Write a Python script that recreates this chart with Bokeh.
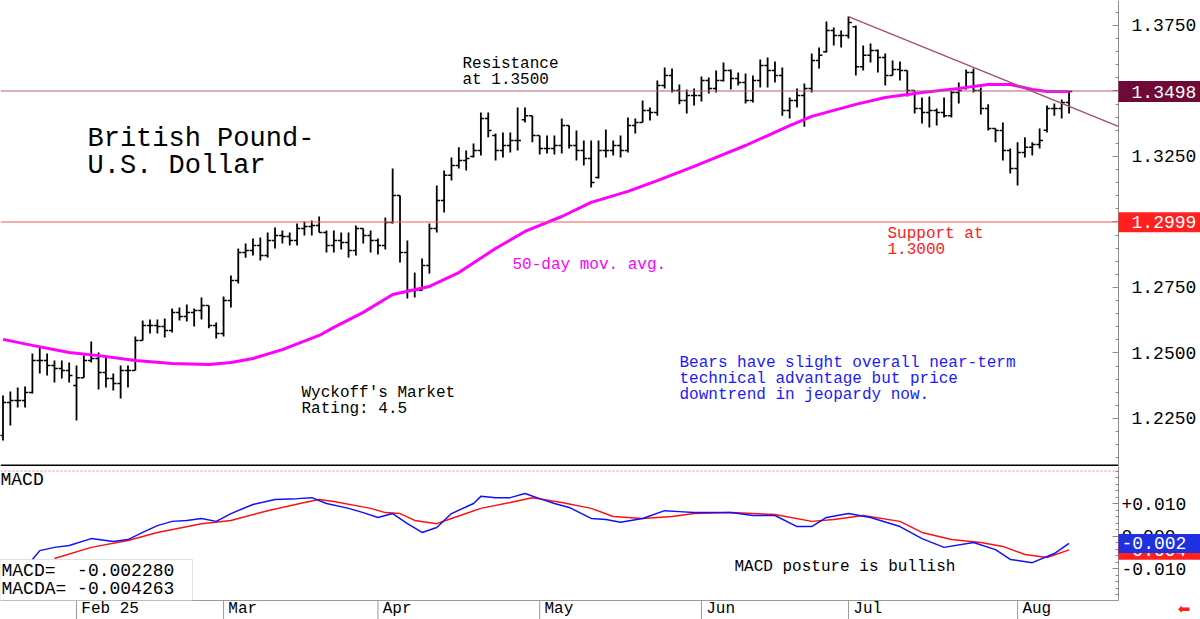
from bokeh.plotting import figure
from bokeh.models import (ColumnDataSource, Range1d, Span, Label, FixedTicker,
                          NumeralTickFormatter, BoxAnnotation, LinearAxis)
from bokeh.core.properties import value
from bokeh.layouts import column
from bokeh.transform import dodge
from bokeh.embed import file_html
from bokeh.resources import INLINE

FONT = "Liberation Mono"

# ---------------- data (daily bars, index 0 = Jan 20 2025) ----------------
bar_idx = list(range(146))
opens = [1.2185, 1.2311, 1.2319, 1.2319, 1.2349, 1.2471, 1.2471, 1.2452, 1.2441, 1.2433,
         1.2376, 1.2406, 1.2471, 1.2479, 1.2426, 1.2403, 1.2384, 1.2433, 1.2433, 1.2548,
         1.2605, 1.2605, 1.2601, 1.2586, 1.2655, 1.2639, 1.2655, 1.2662, 1.2681, 1.2605,
         1.2574, 1.2700, 1.2777, 1.2884, 1.2891, 1.2910, 1.2872, 1.2929, 1.2948, 1.2945,
         1.2929, 1.2975, 1.2983, 1.2987, 1.2960, 1.2910, 1.2929, 1.2922, 1.2891, 1.2975,
         1.2948, 1.2929, 1.2910, 1.2998, 1.3101, 1.2884, 1.2739, 1.2739, 1.2834, 1.2975,
         1.3082, 1.3178, 1.3216, 1.3235, 1.3250, 1.3273, 1.3395, 1.3330, 1.3273, 1.3292,
         1.3311, 1.3390, 1.3406, 1.3330, 1.3281, 1.3281, 1.3292, 1.3368, 1.3292, 1.3273,
         1.3242, 1.3170, 1.3273, 1.3273, 1.3292, 1.3273, 1.3368, 1.3380, 1.3426, 1.3418,
         1.3521, 1.3559, 1.3502, 1.3464, 1.3483, 1.3483, 1.3540, 1.3510, 1.3540, 1.3578,
         1.3548, 1.3532, 1.3464, 1.3540, 1.3597, 1.3578, 1.3559, 1.3426, 1.3464, 1.3483,
         1.3510, 1.3616, 1.3650, 1.3731, 1.3712, 1.3712, 1.3745, 1.3593, 1.3636, 1.3655,
         1.3628, 1.3559, 1.3582, 1.3578, 1.3502, 1.3433, 1.3418, 1.3426, 1.3418, 1.3406,
         1.3494, 1.3510, 1.3571, 1.3502, 1.3433, 1.3357, 1.3349, 1.3273, 1.3204, 1.3265,
         1.3285, 1.3296, 1.3350, 1.3433, 1.3433, 1.3456]
highs = [1.2338, 1.2353, 1.2368, 1.2372, 1.2498, 1.2521, 1.2498, 1.2471, 1.2471, 1.2464,
         1.2452, 1.2490, 1.2544, 1.2502, 1.2490, 1.2422, 1.2452, 1.2452, 1.2563, 1.2624,
         1.2628, 1.2628, 1.2632, 1.2670, 1.2674, 1.2685, 1.2670, 1.2712, 1.2681, 1.2616,
         1.2716, 1.2796, 1.2899, 1.2918, 1.2937, 1.2941, 1.2960, 1.2979, 1.2968, 1.2960,
         1.2994, 1.3002, 1.3006, 1.3021, 1.2968, 1.2968, 1.2960, 1.2960, 1.2987, 1.2975,
         1.2968, 1.2937, 1.3017, 1.3204, 1.3101, 1.2929, 1.2807, 1.2861, 1.2994, 1.3139,
         1.3197, 1.3246, 1.3285, 1.3273, 1.3300, 1.3418, 1.3418, 1.3338, 1.3342, 1.3342,
         1.3437, 1.3437, 1.3406, 1.3330, 1.3330, 1.3330, 1.3395, 1.3368, 1.3349, 1.3311,
         1.3311, 1.3311, 1.3353, 1.3311, 1.3330, 1.3399, 1.3395, 1.3464, 1.3437, 1.3540,
         1.3590, 1.3586, 1.3525, 1.3506, 1.3510, 1.3555, 1.3552, 1.3578, 1.3609, 1.3582,
         1.3571, 1.3567, 1.3559, 1.3620, 1.3628, 1.3613, 1.3590, 1.3475, 1.3510, 1.3529,
         1.3643, 1.3666, 1.3765, 1.3742, 1.3731, 1.3784, 1.3750, 1.3674, 1.3681, 1.3658,
         1.3643, 1.3616, 1.3613, 1.3578, 1.3502, 1.3475, 1.3479, 1.3433, 1.3475, 1.3502,
         1.3532, 1.3582, 1.3586, 1.3513, 1.3449, 1.3357, 1.3380, 1.3281, 1.3304, 1.3323,
         1.3304, 1.3357, 1.3445, 1.3452, 1.3468, 1.3498]
lows = [1.2166, 1.2223, 1.2292, 1.2292, 1.2345, 1.2422, 1.2414, 1.2387, 1.2403, 1.2387,
        1.2242, 1.2406, 1.2464, 1.2361, 1.2368, 1.2357, 1.2326, 1.2368, 1.2433, 1.2548,
        1.2574, 1.2574, 1.2559, 1.2578, 1.2624, 1.2620, 1.2601, 1.2628, 1.2594, 1.2555,
        1.2563, 1.2674, 1.2765, 1.2864, 1.2872, 1.2853, 1.2864, 1.2899, 1.2918, 1.2910,
        1.2910, 1.2948, 1.2948, 1.2960, 1.2884, 1.2884, 1.2895, 1.2864, 1.2872, 1.2918,
        1.2884, 1.2876, 1.2895, 1.2994, 1.2845, 1.2708, 1.2712, 1.2739, 1.2803, 1.2960,
        1.3036, 1.3158, 1.3204, 1.3197, 1.3246, 1.3254, 1.3323, 1.3235, 1.3246, 1.3265,
        1.3273, 1.3380, 1.3304, 1.3258, 1.3261, 1.3258, 1.3261, 1.3281, 1.3235, 1.3216,
        1.3132, 1.3166, 1.3246, 1.3254, 1.3246, 1.3265, 1.3338, 1.3380, 1.3387, 1.3406,
        1.3510, 1.3494, 1.3449, 1.3414, 1.3445, 1.3460, 1.3490, 1.3494, 1.3536, 1.3506,
        1.3521, 1.3452, 1.3456, 1.3513, 1.3513, 1.3532, 1.3406, 1.3395, 1.3437, 1.3364,
        1.3494, 1.3586, 1.3647, 1.3674, 1.3666, 1.3700, 1.3559, 1.3578, 1.3609, 1.3571,
        1.3521, 1.3559, 1.3540, 1.3479, 1.3414, 1.3376, 1.3361, 1.3368, 1.3399, 1.3399,
        1.3452, 1.3506, 1.3494, 1.3410, 1.3349, 1.3304, 1.3235, 1.3185, 1.3139, 1.3246,
        1.3254, 1.3281, 1.3342, 1.3406, 1.3395, 1.3414]
closes = [1.2311, 1.2319, 1.2319, 1.2349, 1.2471, 1.2471, 1.2452, 1.2441, 1.2433, 1.2414,
          1.2406, 1.2471, 1.2479, 1.2426, 1.2403, 1.2384, 1.2433, 1.2433, 1.2548, 1.2605,
          1.2605, 1.2601, 1.2586, 1.2655, 1.2639, 1.2655, 1.2662, 1.2681, 1.2605, 1.2574,
          1.2700, 1.2777, 1.2884, 1.2891, 1.2910, 1.2872, 1.2929, 1.2948, 1.2945, 1.2929,
          1.2975, 1.2983, 1.2987, 1.2960, 1.2910, 1.2929, 1.2922, 1.2891, 1.2975, 1.2948,
          1.2929, 1.2910, 1.2998, 1.3101, 1.2884, 1.2739, 1.2739, 1.2834, 1.2975, 1.3082,
          1.3178, 1.3216, 1.3235, 1.3242, 1.3273, 1.3395, 1.3349, 1.3273, 1.3292, 1.3311,
          1.3311, 1.3406, 1.3330, 1.3281, 1.3281, 1.3292, 1.3368, 1.3292, 1.3273, 1.3242,
          1.3151, 1.3273, 1.3273, 1.3292, 1.3273, 1.3368, 1.3380, 1.3426, 1.3418, 1.3521,
          1.3559, 1.3502, 1.3464, 1.3483, 1.3483, 1.3540, 1.3510, 1.3540, 1.3578, 1.3548,
          1.3532, 1.3464, 1.3540, 1.3597, 1.3578, 1.3559, 1.3426, 1.3464, 1.3483, 1.3510,
          1.3616, 1.3636, 1.3731, 1.3712, 1.3712, 1.3761, 1.3593, 1.3636, 1.3655, 1.3628,
          1.3559, 1.3582, 1.3578, 1.3502, 1.3433, 1.3418, 1.3426, 1.3418, 1.3406, 1.3494,
          1.3502, 1.3571, 1.3502, 1.3433, 1.3357, 1.3349, 1.3273, 1.3204, 1.3265, 1.3285,
          1.3296, 1.3311, 1.3433, 1.3433, 1.3456, 1.3498]

ma_idx = [0, 4, 9, 13, 18, 23, 28, 31, 34, 38, 43, 45, 49, 53, 58, 62, 67, 71, 76, 80,
          85, 89, 94, 98, 101, 104, 107, 110, 113, 116, 120, 125, 130, 134, 137, 140, 142, 145]
ma_val = [1.2552, 1.2529, 1.2502, 1.2490, 1.2471, 1.2460, 1.2456, 1.2464, 1.2479, 1.2513,
          1.2567, 1.2598, 1.2655, 1.2723, 1.2754, 1.2807, 1.2899, 1.2964, 1.3021, 1.3075,
          1.3117, 1.3158, 1.3212, 1.3258, 1.3292, 1.3330, 1.3368, 1.3403, 1.3426, 1.3449,
          1.3475, 1.3494, 1.3510, 1.3525, 1.3525, 1.3506, 1.3498, 1.3498]

macd_idx = [4, 5, 7, 9, 12, 15, 17, 19, 21, 23, 25, 27, 29, 31, 34, 37, 40, 42, 44, 47,
            49, 51, 53, 55, 57, 59, 61, 64, 65, 67, 69, 71, 73, 75, 77, 80, 82, 84, 87, 90,
            92, 94, 97, 99, 102, 105, 108, 110, 112, 115, 118, 122, 125, 128, 132, 135, 137,
            140, 143, 145]
macd_val = [-0.0072, -0.0045, -0.0035, -0.0029, -0.0008, -0.0017, -0.0011, 0.0011, 0.0032,
            0.0045, 0.0048, 0.0054, 0.0045, 0.0069, 0.0097, 0.0112, 0.0115, 0.0118, 0.0100,
            0.0085, 0.0072, 0.0057, 0.0069, 0.0038, 0.0011, 0.0026, 0.0069, 0.0100, 0.0122,
            0.0118, 0.0118, 0.0131, 0.0115, 0.0100, 0.0088, 0.0054, 0.0051, 0.0042, 0.0054,
            0.0078, 0.0075, 0.0072, 0.0072, 0.0072, 0.0063, 0.0063, 0.0029, 0.0029, 0.0057,
            0.0069, 0.0057, 0.0029, -0.0008, -0.0035, -0.0020, -0.0042, -0.0072, -0.0082,
            -0.0054, -0.00228]
sig_idx = [7, 12, 17, 21, 27, 31, 36, 41, 43, 45, 50, 52, 54, 56, 59, 61, 65, 69, 72, 76,
           80, 83, 87, 91, 94, 99, 102, 105, 110, 113, 117, 122, 125, 129, 133, 136, 139, 142, 145]
sig_val = [-0.0069, -0.0035, -0.0014, 0.0011, 0.0038, 0.0048, 0.0078, 0.0103, 0.0112, 0.0106,
           0.0085, 0.0072, 0.0069, 0.0048, 0.0038, 0.0054, 0.0085, 0.0103, 0.0118, 0.0103,
           0.0085, 0.0060, 0.0054, 0.0060, 0.0069, 0.0072, 0.0069, 0.0066, 0.0045, 0.0051,
           0.0063, 0.0045, 0.0011, -0.0011, -0.0020, -0.0032, -0.0057, -0.0066, -0.004263]

trend_idx = [115, 151.7]
trend_val = [1.3784, 1.3365]
resistance = 1.3500
support = 1.3000
last_price = 1.3498
support_mark = 1.2999
macd_last = -0.002280
macda_last = -0.004263
macd_ref = 0.020

month_idx = [10, 30, 51, 73, 95, 115, 138]
month_lbl = ["Feb 25", "Mar", "Apr", "May", "Jun", "Jul", "Aug"]
price_ticks = [1.2250, 1.2500, 1.2750, 1.3000, 1.3250, 1.3500, 1.3750]
price_minor = [1.210, 1.215, 1.220, 1.225, 1.230, 1.235, 1.240, 1.245, 1.250, 1.255,
               1.260, 1.265, 1.270, 1.275, 1.280, 1.285, 1.290, 1.295, 1.300, 1.305,
               1.310, 1.315, 1.320, 1.325, 1.330, 1.335, 1.340, 1.345, 1.350, 1.355,
               1.360, 1.365, 1.370, 1.375, 1.380]
macd_ticks = [-0.010, 0.000, 0.010]
macd_tick_lbl = ["-0.010", "0.000", "+0.010"]
macd_minor = [-0.018, -0.016, -0.014, -0.012, -0.010, -0.008, -0.006, -0.004, -0.002, 0.000,
              0.002, 0.004, 0.006, 0.008, 0.010, 0.012, 0.014, 0.016, 0.018, 0.020]

# ---------------- layout constants ----------------
W = 1200
TOP_H, BOT_H = 466, 153
X0, X1 = -0.34, 162.88          # whole canvas width (0..1200 px)
AX = 151.73                     # right axis position (x = 1118 px)
TAG_C = 157.31                  # centre of the value tags
TAG_T = 153.50                  # text start inside price tags
TAG_T2 = 152.14                 # text start inside MACD tags
P_BOT, P_TOP = 1.206679, 1.384542
M_BOT, M_TOP = -0.025692, 0.021385
M_AXIS = -0.019846              # MACD panel bottom (y = 600 px)
NB = "\u00a0"

xr = Range1d(X0, X1)


def base_fig(h, yr):
    f = figure(width=W, height=h, x_range=xr, y_range=yr, output_backend="svg",
               toolbar_location=None, min_border_left=0, min_border_top=0,
               min_border_bottom=0, min_border_right=0)
    f.grid.visible = False
    f.outline_line_color = None
    f.background_fill_color = "white"
    f.border_fill_color = "white"
    f.xaxis.visible = False
    f.yaxis.visible = False
    return f


def style_y(ax, standoff):
    ax.axis_line_color = "#8a8a8a"
    ax.major_tick_line_color = "#8a8a8a"
    ax.minor_tick_line_color = "#8a8a8a"
    ax.major_tick_in, ax.major_tick_out = 6, 0
    ax.minor_tick_in, ax.minor_tick_out = 3, 0
    ax.major_label_standoff = standoff
    ax.major_label_text_font = FONT
    ax.major_label_text_font_size = "18px"
    ax.major_label_text_color = "black"


def note(fig, x, y, text, fs, color, lh=0.9):
    fig.add_layout(Label(x=x, y=y, x_units="screen", y_units="screen", text=text,
                         text_font=FONT, text_font_size=fs, text_color=color,
                         text_baseline="top", text_align="left", text_line_height=lh))


def tag(fig, y, text, fill, tx, h):
    fig.rect(x=[TAG_C], y=[y], width=82, height=h, width_units="screen",
             height_units="screen", fill_color=fill, line_color=None, level="overlay")
    fig.text(x=[tx], y=[y], text=[text], text_font=value(FONT), text_font_size="18px",
             text_color="white", text_baseline="middle", text_align="left", level="overlay")


# ---------------- price panel ----------------
p = base_fig(TOP_H, Range1d(P_BOT, P_TOP))
ya = LinearAxis(fixed_location=AX)
p.add_layout(ya, "right")
ya.ticker = FixedTicker(ticks=price_ticks, minor_ticks=price_minor)
ya.formatter = NumeralTickFormatter(format="0.0000")
style_y(ya, 13)

p.add_layout(Span(location=resistance, dimension="width", line_color="#b0607e", line_width=1))
p.add_layout(Span(location=support, dimension="width", line_color="#f05a5a", line_width=1))
p.segment(x0=[X0], y0=[1.207061], x1=[AX], y1=[1.207061], line_color="black", line_width=2)

src = ColumnDataSource(dict(idx=bar_idx, o=opens, h=highs, l=lows, c=closes))
p.segment(x0="idx", y0="l", x1="idx", y1="h", source=src, line_color="black", line_width=1.8)
p.segment(x0=dodge("idx", -0.45), y0="o", x1="idx", y1="o", source=src, line_color="black", line_width=1.5)
p.segment(x0="idx", y0="c", x1=dodge("idx", 0.45), y1="c", source=src, line_color="black", line_width=1.5)

p.line(ma_idx, ma_val, line_color="#ff00ff", line_width=3)
p.line(trend_idx, trend_val, line_color="#a0506e", line_width=1.3)

note(p, 87, TOP_H - 123, "British Pound-\nU.S. Dollar", "27px", "black")
note(p, 462, TOP_H - 54, "Resistance\nat 1.3500", "16px", "black")
note(p, 512, TOP_H - 255, "50-day mov. avg.", "16px", "#ff00ff")
note(p, 887, TOP_H - 224, "Support at\n1.3000", "16px", "#ff2020")
note(p, 301, TOP_H - 383, "Wyckoff's Market\nRating: 4.5", "16px", "black")
note(p, 679, TOP_H - 353,
     "Bears have slight overall near-term\ntechnical advantage but price\ndowntrend in jeopardy now.",
     "16px", "#1a1aff")

tag(p, last_price, "1.3498", "#6e0a38", TAG_T, 21)
tag(p, support_mark, "1.2999", "#ff2020", TAG_T, 20)

# ---------------- MACD panel ----------------
q = base_fig(BOT_H, Range1d(M_BOT, M_TOP))

qx = LinearAxis(fixed_location=M_AXIS, bounds=(X0, AX))
q.add_layout(qx, "below")
qx.ticker = FixedTicker(ticks=month_idx)
qx.major_label_overrides = {i: NB * (len(t) + 1) + t for i, t in zip(month_idx, month_lbl)}
qx.axis_line_color = "#9a9a9a"
qx.major_tick_in, qx.major_tick_out = 0, 0
qx.minor_tick_in, qx.minor_tick_out = 0, 0
qx.major_tick_line_color = None
qx.minor_tick_line_color = None
qx.major_label_standoff = -1
qx.major_label_text_font = FONT
qx.major_label_text_font_size = "16px"
qx.major_label_text_color = "black"

qy = LinearAxis(fixed_location=AX, bounds=(M_AXIS, M_TOP))
q.add_layout(qy, "right")
qy.ticker = FixedTicker(ticks=macd_ticks, minor_ticks=macd_minor)
qy.major_label_overrides = dict(zip(macd_ticks, macd_tick_lbl))
style_y(qy, 3)

# month separators below the MACD panel
q.segment(x0=month_idx, y0=[M_AXIS] * len(month_idx), x1=month_idx,
          y1=[M_BOT] * len(month_idx), line_color="#9a9a9a", line_width=1)

q.segment(x0=[X0], y0=[macd_ref], x1=[AX], y1=[macd_ref], line_color="#ff8080",
          line_width=1, line_dash="2 2")
q.line(sig_idx, sig_val, line_color="#ff1010", line_width=1.5)
q.line(macd_idx, macd_val, line_color="#1010ff", line_width=1.5)

note(q, 0, BOT_H - 469 + 466, "MACD", "18px", "black")
note(q, 734, BOT_H - 557 + 466, "MACD posture is bullish", "16px", "black")

q.add_layout(BoxAnnotation(left=0, right=192, bottom=19, top=60, left_units="screen",
                           right_units="screen", bottom_units="screen", top_units="screen",
                           fill_color="white", fill_alpha=1.0, line_color="#9a9a9a",
                           line_width=1))
note(q, 1, 59, "MACD=" + NB * 2 + "%.6f\nMACDA=" % macd_last + NB + "%.6f" % macda_last,
     "18px", "black", lh=0.93)

tag(q, macda_last, "-0.004", "#ff2020", TAG_T2, 20)
tag(q, macd_last, "-0.002", "#2030e0", TAG_T2, 19)

q.text(x=[159.80], y=[-0.0225], text=["\u2B05"], text_font=value("DejaVu Sans"),
       text_font_size="15px", text_color="#ff2020", text_baseline="middle",
       text_align="left", level="overlay")

layout = column(p, q, spacing=0)
open("out.html", "w").write(file_html(layout, INLINE))
